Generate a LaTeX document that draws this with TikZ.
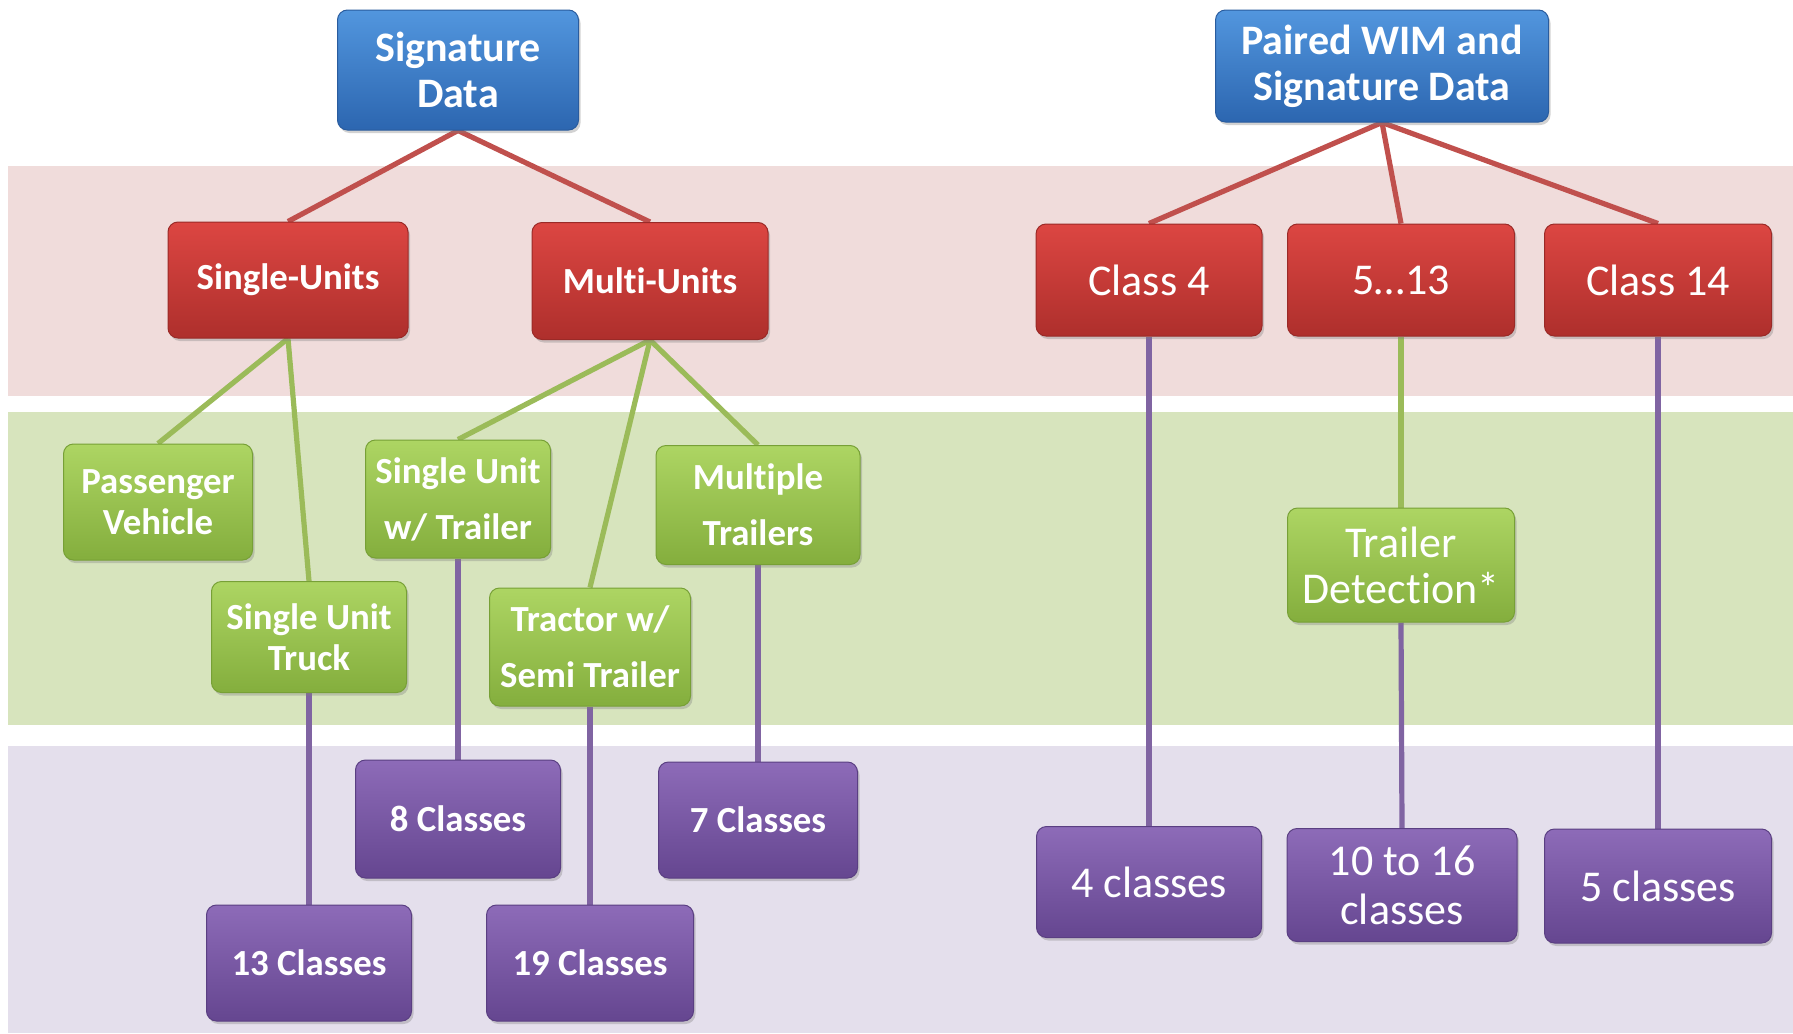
\documentclass[tikz,border=0pt]{standalone}
\usepackage{fontspec}
\setmainfont[Ligatures=NoCommon]{Carlito}
\usetikzlibrary{shadows}
\pgfdeclarelayer{bg}
\pgfdeclarelayer{lines}
\pgfsetlayers{bg,lines,main}
\definecolor{bandR}{HTML}{F0DCDB}
\definecolor{bandG}{HTML}{D7E4BD}
\definecolor{bandP}{HTML}{E4DFEC}
\definecolor{blueT}{HTML}{5296DE}
\definecolor{blueB}{HTML}{2C66B0}
\definecolor{blueD}{HTML}{2A5C9E}
\definecolor{redT}{HTML}{DC4642}
\definecolor{redB}{HTML}{AE2F2C}
\definecolor{redD}{HTML}{9A2A27}
\definecolor{greenT}{HTML}{ADD563}
\definecolor{greenB}{HTML}{84AE3D}
\definecolor{greenD}{HTML}{77A036}
\definecolor{purpT}{HTML}{8D6BB8}
\definecolor{purpB}{HTML}{654690}
\definecolor{purpD}{HTML}{5A3F82}
\definecolor{lineR}{HTML}{C0504D}
\definecolor{lineG}{HTML}{9BBB59}
\definecolor{lineP}{HTML}{8064A2}
\tikzset{
  box/.style={rectangle, rounded corners=5pt, align=center, text=white, inner sep=0pt, line width=0.5pt,
    drop shadow={shadow xshift=1pt, shadow yshift=-1.5pt, opacity=0.35}},
  bluebox/.style={box, top color=blueT, bottom color=blueB, draw=blueD, font=\bfseries\fontsize{21}{23}\selectfont},
  redbox/.style={box, top color=redT, bottom color=redB, draw=redD},
  greenbox/.style={box, top color=greenT, bottom color=greenB, draw=greenD},
  purpbox/.style={box, top color=purpT, bottom color=purpB, draw=purpD},
  lfont/.style={font=\bfseries\fontsize{18.4}{20.5}\selectfont},
  lwide/.style={font=\bfseries\fontsize{18.4}{28}\selectfont},
  rfont/.style={font=\fontsize{22}{24.5}\selectfont},
  rline/.style={draw=lineR, line width=2.6pt},
  gline/.style={draw=lineG, line width=2.6pt},
  pline/.style={draw=lineP, line width=2.6pt}
}
\begin{document}
\begin{tikzpicture}[x=0.5pt, y=-0.5pt]
\useasboundingbox (0,0) rectangle (1793,1033);
\begin{pgfonlayer}{bg}
  \fill[white] (0,0) rectangle (1793,1033);
  \fill[bandR] (8,166) rectangle (1793,396);
  \fill[bandG] (8,412) rectangle (1793,725);
  \fill[bandP] (8,746) rectangle (1793,1033);
\end{pgfonlayer}
% top
\node[bluebox, minimum width=120.5pt, minimum height=60pt] (sig) at (458,70) {Signature\\Data};
\node[bluebox, minimum width=166.5pt, minimum height=56pt] (pair) at (1382,66) {Paired WIM and\\Signature Data};
% red level
\node[redbox, lfont, minimum width=120pt, minimum height=58pt] (su) at (288,280) {Single-Units};
\node[redbox, lfont, minimum width=118pt, minimum height=58.5pt] (mu) at (650,281) {Multi-Units};
\node[redbox, rfont, minimum width=113pt, minimum height=56pt] (c4) at (1149,280) {Class 4};
\node[redbox, rfont, minimum width=113.5pt, minimum height=56pt] (c513) at (1401,280) {5…13};
\node[redbox, rfont, minimum width=113.5pt, minimum height=56pt] (c14) at (1658,280) {Class 14};
% green level
\node[greenbox, lfont, minimum width=94.5pt, minimum height=58pt] (pv) at (158,502) {Passenger\\Vehicle};
\node[greenbox, lfont, minimum width=97.5pt, minimum height=55.5pt] (sut) at (309,637) {Single Unit\\Truck};
\node[greenbox, lwide, minimum width=92.5pt, minimum height=59pt] (suw) at (458,499) {Single Unit\\w/ Trailer};
\node[greenbox, lwide, minimum width=100.5pt, minimum height=59pt] (tsw) at (590,647) {Tractor w/\\Semi Trailer};
\node[greenbox, lwide, minimum width=102pt, minimum height=59.5pt] (mt) at (758,505) {Multiple\\Trailers};
\node[greenbox, font=\fontsize{22}{23}\selectfont, minimum width=113.5pt, minimum height=57pt] (td) at (1401,565) {Trailer\\Detection*};
% purple level
\node[purpbox, lfont, minimum width=102.5pt, minimum height=59pt] (c8) at (458,819) {8 Classes};
\node[purpbox, lfont, minimum width=99.5pt, minimum height=58pt] (c7) at (758,820) {7 Classes};
\node[purpbox, lfont, minimum width=102.5pt, minimum height=58pt] (c13) at (309,963) {13 Classes};
\node[purpbox, lfont, minimum width=103.5pt, minimum height=58pt] (c19) at (590,963) {19 Classes};
\node[purpbox, rfont, minimum width=112.5pt, minimum height=55.5pt] (c4c) at (1149,882) {4 classes};
\node[purpbox, rfont, minimum width=115pt, minimum height=56.5pt] (c1016) at (1402,885) {10 to 16\\classes};
\node[purpbox, rfont, minimum width=113.5pt, minimum height=57pt] (c5) at (1658,886) {5 classes};
% connectors
\begin{pgfonlayer}{lines}
  \draw[rline] (sig.south) -- (su.north);
  \draw[rline] (sig.south) -- (mu.north);
  \draw[rline] (pair.south) -- (c4.north);
  \draw[rline] (pair.south) -- (c513.north);
  \draw[rline] (pair.south) -- (c14.north);
  \draw[gline] (su.south) -- (pv.north);
  \draw[gline] (su.south) -- (sut.north);
  \draw[gline] (mu.south) -- (suw.north);
  \draw[gline] (mu.south) -- (tsw.north);
  \draw[gline] (mu.south) -- (mt.north);
  \draw[gline] (c513.south) -- (td.north);
  \draw[pline] (sut.south) -- (c13.north);
  \draw[pline] (suw.south) -- (c8.north);
  \draw[pline] (tsw.south) -- (c19.north);
  \draw[pline] (mt.south) -- (c7.north);
  \draw[pline] (c4.south) -- (c4c.north);
  \draw[pline] (td.south) -- (c1016.north);
  \draw[pline] (c14.south) -- (c5.north);
\end{pgfonlayer}
\end{tikzpicture}
\end{document}
